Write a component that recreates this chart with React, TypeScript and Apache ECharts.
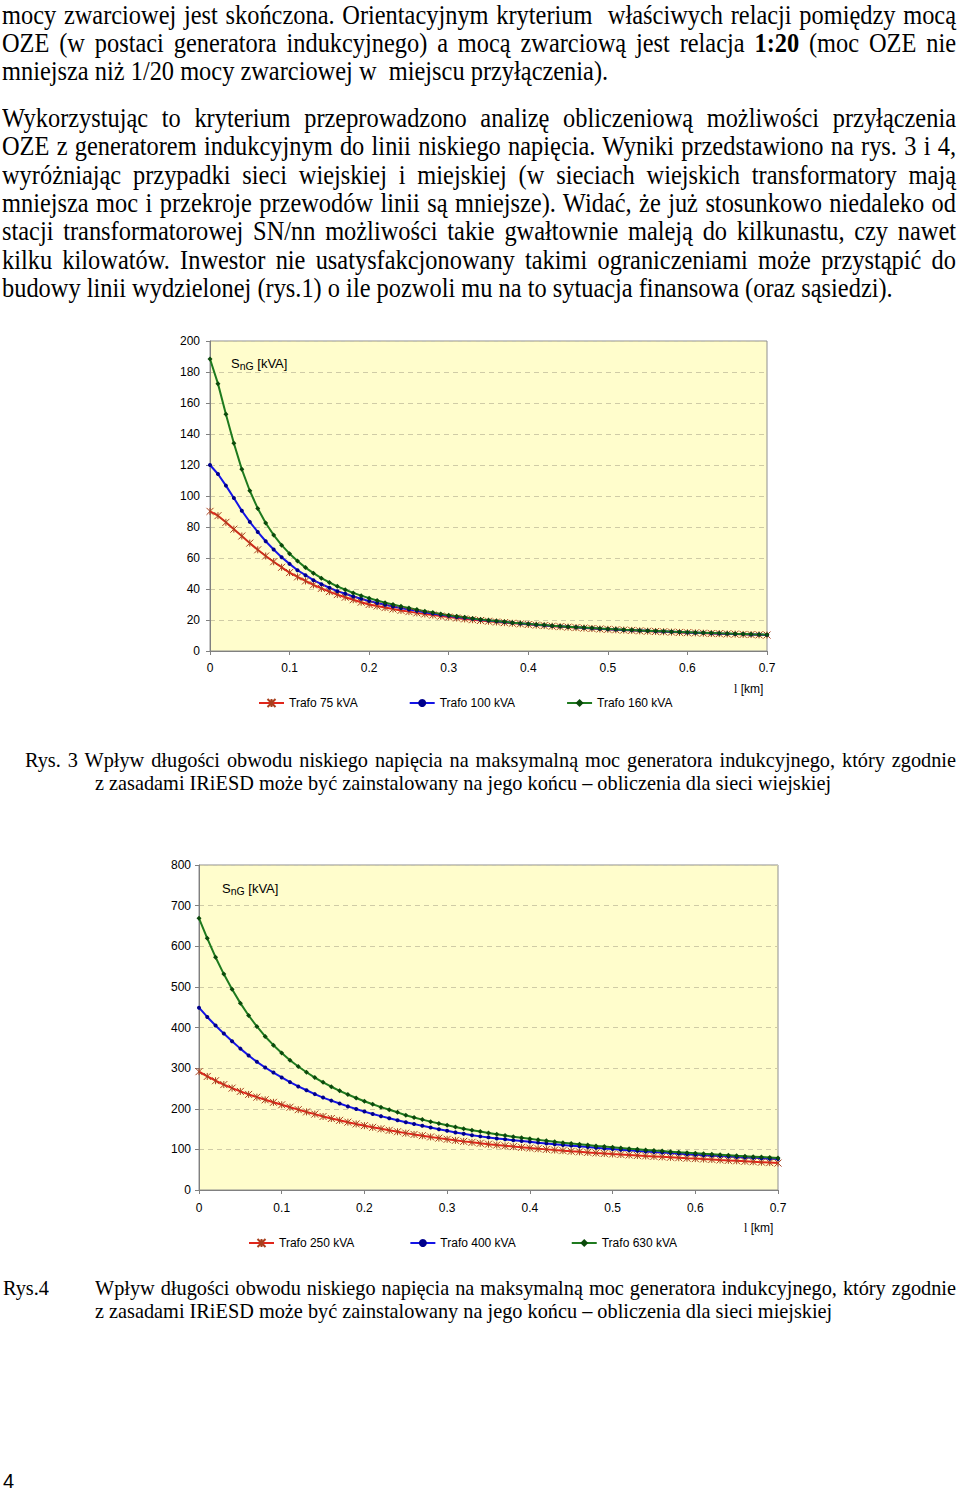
import React, { useEffect, useRef } from "react";
import * as echarts from "echarts";

// ---------- data ----------
const L_KM = [0, 0.01, 0.02, 0.03, 0.04, 0.05, 0.06, 0.07, 0.08, 0.09, 0.1, 0.11, 0.12, 0.13, 0.14, 0.15, 0.16, 0.17, 0.18, 0.19, 0.2, 0.21, 0.22, 0.23, 0.24, 0.25, 0.26, 0.27, 0.28, 0.29, 0.3, 0.31, 0.32, 0.33, 0.34, 0.35, 0.36, 0.37, 0.38, 0.39, 0.4, 0.41, 0.42, 0.43, 0.44, 0.45, 0.46, 0.47, 0.48, 0.49, 0.5, 0.51, 0.52, 0.53, 0.54, 0.55, 0.56, 0.57, 0.58, 0.59, 0.6, 0.61, 0.62, 0.63, 0.64, 0.65, 0.66, 0.67, 0.68, 0.69, 0.7];

// Rys. 3 – rural network
const RURAL_NAMES = ["Trafo 75 kVA", "Trafo 100 kVA", "Trafo 160 kVA"];
const TRAFO_75 = [90.1, 87.3, 83.0, 78.6, 74.2, 69.6, 65.3, 61.3, 57.6, 54.0, 50.6, 47.8, 45.2, 42.7, 40.4, 38.3, 36.4, 34.7, 33.1, 31.5, 30.0, 29.0, 28.0, 27.1, 26.2, 25.4, 24.6, 23.9, 23.2, 22.5, 21.9, 21.3, 20.7, 20.2, 19.7, 19.2, 18.7, 18.3, 17.9, 17.5, 17.1, 16.7, 16.4, 16.0, 15.7, 15.4, 15.1, 14.8, 14.5, 14.2, 14.0, 13.7, 13.5, 13.3, 13.0, 12.8, 12.6, 12.4, 12.2, 12.0, 11.8, 11.7, 11.5, 11.3, 11.2, 11.0, 10.9, 10.7, 10.6, 10.4, 10.3];
const TRAFO_100 = [120.0, 114.2, 106.7, 98.7, 90.5, 83.3, 76.8, 70.8, 65.5, 60.5, 56.2, 52.1, 48.9, 45.7, 43.1, 40.8, 38.6, 36.9, 35.2, 33.7, 32.2, 31.0, 29.8, 28.7, 27.7, 26.8, 25.9, 25.0, 24.2, 23.4, 22.7, 22.0, 21.4, 20.8, 20.2, 19.7, 19.2, 18.7, 18.2, 17.8, 17.4, 17.0, 16.6, 16.2, 15.9, 15.6, 15.3, 15.0, 14.7, 14.4, 14.1, 13.9, 13.6, 13.4, 13.2, 13.0, 12.8, 12.6, 12.4, 12.2, 12.0, 11.8, 11.7, 11.5, 11.3, 11.2, 11.0, 10.9, 10.7, 10.6, 10.4];
const TRAFO_160 = [188.4, 172.5, 152.8, 134.0, 117.2, 103.4, 92.0, 82.6, 74.8, 68.3, 62.8, 58.0, 53.8, 50.2, 47.0, 44.2, 41.7, 39.5, 37.5, 35.7, 34.1, 32.6, 31.2, 30.0, 28.8, 27.7, 26.7, 25.7, 24.8, 23.9, 23.1, 22.4, 21.7, 21.0, 20.4, 19.8, 19.3, 18.8, 18.3, 17.9, 17.5, 17.1, 16.7, 16.3, 16.0, 15.7, 15.4, 15.1, 14.8, 14.5, 14.2, 14.0, 13.7, 13.5, 13.3, 13.1, 12.9, 12.7, 12.5, 12.3, 12.1, 11.9, 11.8, 11.6, 11.4, 11.3, 11.1, 11.0, 10.8, 10.7, 10.5];

// Rys. 4 – urban network
const URBAN_NAMES = ["Trafo 250 kVA", "Trafo 400 kVA", "Trafo 630 kVA"];
const TRAFO_250 = [291.3, 279.5, 269.0, 259.5, 250.8, 242.7, 235.3, 228.5, 222.0, 215.8, 209.8, 203.8, 197.8, 192.2, 186.8, 181.0, 176.0, 171.5, 167.0, 162.6, 158.4, 154.3, 150.6, 146.9, 143.4, 140.0, 136.8, 133.7, 130.6, 127.7, 124.8, 122.2, 119.7, 117.3, 115.0, 112.8, 110.7, 108.7, 106.8, 105.0, 103.3, 101.6, 100.0, 98.4, 96.9, 95.4, 94.0, 92.6, 91.2, 89.9, 88.6, 87.4, 86.2, 85.0, 83.8, 82.7, 81.6, 80.5, 79.4, 78.3, 77.3, 76.2, 75.2, 74.0, 72.9, 71.8, 70.7, 69.6, 68.5, 67.4, 66.3];
const TRAFO_400 = [448.8, 426.0, 405.0, 385.0, 366.0, 348.0, 331.0, 315.5, 301.5, 289.0, 277.0, 265.5, 255.0, 245.5, 236.0, 227.5, 220.0, 212.8, 205.8, 199.2, 193.0, 187.2, 181.8, 176.6, 171.6, 166.8, 162.3, 157.9, 153.7, 149.6, 145.6, 141.8, 138.2, 134.8, 132.0, 129.5, 127.0, 124.7, 122.5, 120.5, 118.6, 116.6, 114.7, 112.8, 111.0, 109.2, 107.4, 105.7, 104.0, 102.4, 100.8, 99.3, 97.8, 96.3, 94.9, 93.5, 92.1, 90.8, 89.5, 88.2, 87.0, 85.8, 84.6, 83.5, 82.4, 81.3, 80.2, 79.1, 78.1, 77.1, 76.1];
const TRAFO_630 = [668.7, 619.5, 573.0, 531.5, 494.0, 460.0, 429.5, 402.5, 378.0, 356.5, 337.0, 319.5, 304.0, 289.8, 276.8, 265.0, 254.2, 244.2, 235.0, 226.4, 218.4, 211.0, 204.0, 197.4, 191.2, 184.0, 178.5, 173.3, 168.3, 163.6, 159.2, 155.0, 151.0, 147.3, 143.8, 140.4, 137.2, 134.1, 131.2, 128.5, 125.9, 123.4, 121.0, 118.7, 116.5, 114.4, 112.4, 110.5, 108.6, 106.8, 105.1, 103.4, 101.8, 100.2, 98.7, 97.2, 95.8, 94.4, 93.0, 91.7, 90.4, 89.1, 87.9, 86.7, 85.5, 84.3, 83.2, 82.1, 81.0, 79.9, 78.8];

// ---------- styling ----------
const SANS = '"Liberation Sans", Arial, sans-serif';
const SERIF = '"Liberation Serif", "Times New Roman", serif';
const ASTERISK = "path://M0,0L10,10M10,0L0,10M5,0L5,10";

const SERIES_STYLE = [
  { line: "#E0261B", mark: "#A8401E", symbol: ASTERISK, size: 7, border: 1 },
  { line: "#1414E6", mark: "#00008C", symbol: "circle", size: 4, border: 0 },
  { line: "#1E7A1E", mark: "#0B4A0B", symbol: "diamond", size: 5, border: 0 },
];

function makeOption(cfg: any) {
  const series = cfg.values.map((vals: number[], i: number) => {
    const st = SERIES_STYLE[i];
    return {
      name: cfg.names[i],
      type: "line",
      data: L_KM.map((x, k) => [x, vals[k]]),
      symbol: st.symbol,
      symbolSize: st.size,
      showAllSymbol: true,
      lineStyle: { color: st.line, width: 2 },
      itemStyle: { color: st.mark, borderColor: st.mark, borderWidth: st.border },
    };
  });
  return {
    animation: false,
    textStyle: { fontFamily: SANS, color: "#000" },
    grid: {
      left: cfg.grid.left,
      top: cfg.grid.top,
      width: cfg.grid.width,
      height: cfg.grid.height,
      show: true,
      backgroundColor: "#FFFDCC",
      borderColor: "#8F8F8F",
      borderWidth: 1,
    },
    xAxis: {
      type: "value",
      min: 0,
      max: 0.7,
      interval: 0.1,
      axisLine: { lineStyle: { color: "#808080", width: 1 } },
      axisTick: { show: true, inside: false, length: 4, lineStyle: { color: "#808080" } },
      axisLabel: {
        margin: cfg.xLabelMargin,
        fontSize: 12,
        color: "#000",
        fontFamily: SANS,
        formatter: (v: number) => String(Math.round(v * 10) / 10),
      },
      splitLine: { show: false },
    },
    yAxis: {
      type: "value",
      min: 0,
      max: cfg.yMax,
      interval: cfg.yInterval,
      axisLine: { show: true, lineStyle: { color: "#808080", width: 1 } },
      axisTick: { show: true, inside: false, length: 4, lineStyle: { color: "#808080" } },
      axisLabel: { margin: cfg.yLabelMargin, fontSize: 12, color: "#000", fontFamily: SANS },
      splitLine: { show: true, lineStyle: { color: "#CFCBA6", type: [5, 4], width: 1 } },
    },
    legend: {
      left: cfg.legend.left,
      top: cfg.legend.top,
      itemGap: cfg.legend.gap,
      itemWidth: 25,
      itemHeight: 10,
      textStyle: { fontSize: 12, color: "#000", fontFamily: SANS },
      data: cfg.names,
    },
    graphic: [
      {
        type: "text",
        x: cfg.snG.x,
        y: cfg.snG.y,
        style: {
          text: "{a|S}{b|nG}{a| [kVA]}",
          rich: {
            a: { fontSize: 13, fontFamily: SANS, fill: "#000", lineHeight: 17 },
            b: { fontSize: 10.5, fontFamily: SANS, fill: "#000", lineHeight: 11, verticalAlign: "bottom" },
          },
          verticalAlign: "middle",
        },
      },
      {
        type: "text",
        x: cfg.lkm.x,
        y: cfg.lkm.y,
        style: {
          text: "{l|l} {k|[km]}",
          rich: {
            l: { fontSize: 12, fontFamily: SERIF, fill: "#000" },
            k: { fontSize: 12, fontFamily: SANS, fill: "#000" },
          },
          verticalAlign: "middle",
        },
      },
    ],
    series,
  };
}

const OPTION_RURAL = makeOption({
  names: RURAL_NAMES,
  values: [TRAFO_75, TRAFO_100, TRAFO_160],
  grid: { left: 50, top: 16, width: 557, height: 310 },
  yMax: 200,
  yInterval: 20,
  xLabelMargin: 11,
  yLabelMargin: 10,
  legend: { left: 93, top: 367, gap: 51 },
  snG: { x: 71, y: 38 },
  lkm: { x: 574, y: 364 },
});

const OPTION_URBAN = makeOption({
  names: URBAN_NAMES,
  values: [TRAFO_250, TRAFO_400, TRAFO_630],
  grid: { left: 49, top: 15, width: 579, height: 325 },
  yMax: 800,
  yInterval: 100,
  xLabelMargin: 12,
  yLabelMargin: 8,
  legend: { left: 93, top: 382, gap: 55 },
  snG: { x: 72, y: 38 },
  lkm: { x: 594, y: 378 },
});

function Chart({ option, style }: { option: any; style: React.CSSProperties }) {
  const ref = useRef<HTMLDivElement>(null);
  useEffect(() => {
    if (!ref.current) return;
    const chart = echarts.init(ref.current, null, { renderer: "svg" });
    chart.setOption(option);
    return () => chart.dispose();
  }, [option]);
  return <div ref={ref} style={style} />;
}

function Line({ top, left, width, size, lh, justify, children }: any) {
  return (
    <div
      style={{
        position: "absolute",
        top,
        left,
        width,
        fontSize: size,
        lineHeight: lh + "px",
        textAlign: justify ? "justify" : "left",
        textAlignLast: justify ? "justify" : "auto",
        whiteSpace: "normal",
        transform: "scaleY(1.08)",
        transformOrigin: "50% 50%",
      } as React.CSSProperties}
    >
      {children}
    </div>
  );
}

export default function App() {
  const P = 24.4;
  const PL = 28.3;
  const C = 20.3;
  const CL = 23.5;
  const T1 = 0.5;
  return (
    <div
      style={{
        position: "absolute",
        left: 0,
        top: 0,
        width: 960,
        height: 1493,
        overflow: "hidden",
        background: "#fff",
        fontFamily: SERIF,
        color: "#000",
      }}
    >
      <Line top={T1} left={2} width={954} size={P} lh={PL} justify>
        mocy zwarciowej jest skończona. Orientacyjnym kryterium&nbsp; właściwych relacji pomiędzy mocą
      </Line>
      <Line top={T1 + PL} left={2} width={954} size={P} lh={PL} justify>
        OZE (w postaci generatora indukcyjnego) a mocą zwarciową jest relacja <b>1:20</b> (moc OZE nie
      </Line>
      <Line top={T1 + 2 * PL} left={2} width={954} size={P} lh={PL}>
        mniejsza niż 1/20 mocy zwarciowej w&nbsp; miejscu przyłączenia).
      </Line>

      <Line top={104} left={2} width={954} size={P} lh={PL} justify>
        Wykorzystując to kryterium przeprowadzono analizę obliczeniową możliwości przyłączenia
      </Line>
      <Line top={104 + PL} left={2} width={954} size={P} lh={PL} justify>
        OZE z generatorem indukcyjnym do linii niskiego napięcia. Wyniki przedstawiono na rys. 3 i 4,
      </Line>
      <Line top={104 + 2 * PL} left={2} width={954} size={P} lh={PL} justify>
        wyróżniając przypadki sieci wiejskiej i miejskiej (w sieciach wiejskich transformatory mają
      </Line>
      <Line top={104 + 3 * PL} left={2} width={954} size={P} lh={PL} justify>
        mniejsza moc i przekroje przewodów linii są mniejsze). Widać, że już stosunkowo niedaleko od
      </Line>
      <Line top={104 + 4 * PL} left={2} width={954} size={P} lh={PL} justify>
        stacji transformatorowej SN/nn możliwości takie gwałtownie maleją do kilkunastu, czy nawet
      </Line>
      <Line top={104 + 5 * PL} left={2} width={954} size={P} lh={PL} justify>
        kilku kilowatów. Inwestor nie usatysfakcjonowany takimi ograniczeniami może przystąpić do
      </Line>
      <Line top={104 + 6 * PL} left={2} width={954} size={P} lh={PL}>
        budowy linii wydzielonej (rys.1) o ile pozwoli mu na to sytuacja finansowa (oraz sąsiedzi).
      </Line>

      <Chart option={OPTION_RURAL} style={{ position: "absolute", left: 160, top: 325, width: 640, height: 400 }} />

      <Line top={748.5} left={25} width={931} size={C} lh={CL} justify>
        Rys. 3 Wpływ długości obwodu niskiego napięcia na maksymalną moc generatora indukcyjnego, który zgodnie
      </Line>
      <Line top={748.5 + CL} left={95} width={861} size={C} lh={CL}>
        z zasadami IRiESD może być zainstalowany na jego końcu – obliczenia dla sieci wiejskiej
      </Line>

      <Chart option={OPTION_URBAN} style={{ position: "absolute", left: 150, top: 850, width: 660, height: 420 }} />

      <Line top={1275.5} left={3} width={80} size={C} lh={CL}>
        Rys.4
      </Line>
      <Line top={1275.5} left={95} width={861} size={C} lh={CL} justify>
        Wpływ długości obwodu niskiego napięcia na maksymalną moc generatora indukcyjnego, który zgodnie
      </Line>
      <Line top={1275.5 + CL} left={95} width={861} size={C} lh={CL}>
        z zasadami IRiESD może być zainstalowany na jego końcu – obliczenia dla sieci miejskiej
      </Line>

      <div
        style={{
          position: "absolute",
          left: 3,
          top: 1469,
          fontFamily: SANS,
          fontSize: 20,
          lineHeight: "24px",
        }}
      >
        4
      </div>
    </div>
  );
}
